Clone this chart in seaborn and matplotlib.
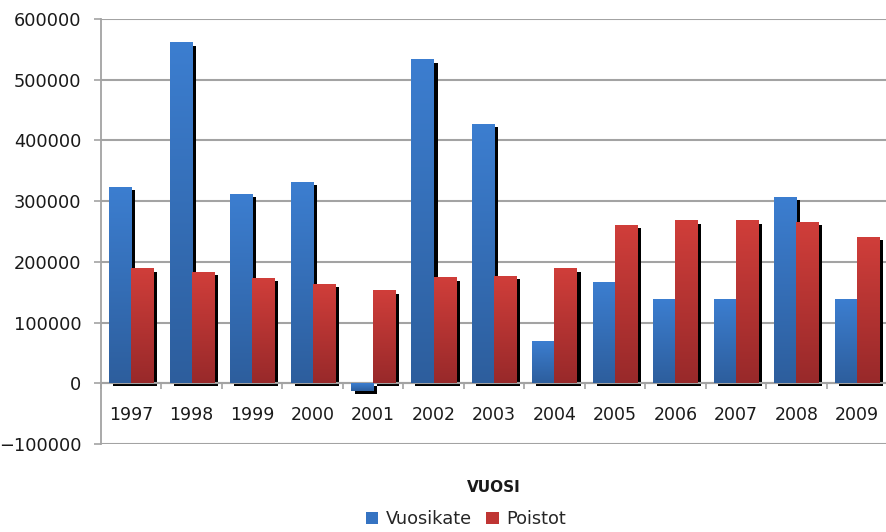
import numpy as np
import pandas as pd
import matplotlib
matplotlib.use("Agg")
import matplotlib.pyplot as plt
import seaborn as sns
from matplotlib.colors import LinearSegmentedColormap
from matplotlib.patches import Rectangle, Patch
from matplotlib.transforms import ScaledTranslation
from matplotlib.ticker import FixedLocator, StrMethodFormatter

years = ['1997', '1998', '1999', '2000', '2001', '2002', '2003',
         '2004', '2005', '2006', '2007', '2008', '2009']
vuosikate = [322000, 560000, 311000, 331000, -13000, 532000, 426000,
             68000, 166000, 138000, 138000, 306000, 138000]
poistot = [188000, 182000, 172000, 163000, 152000, 173000, 176000,
           188000, 260000, 267000, 267000, 265000, 240000]
series = ['Vuosikate', 'Poistot']
y_ticks = [-100000, 0, 100000, 200000, 300000, 400000, 500000, 600000]

df = pd.DataFrame({
    'VUOSI': years * 2,
    'value': vuosikate + poistot,
    'series': [series[0]] * len(years) + [series[1]] * len(years),
})

sns.set_theme(style="white")
plt.rcParams['font.family'] = ['DejaVu Sans']

fig = plt.figure(figsize=(8.86, 5.32), dpi=100)
ax = fig.add_axes([101 / 886, 88 / 532, 786 / 886, 425 / 532])

pal = {'Vuosikate': '#3A7BCC', 'Poistot': '#C93B38'}
sns.barplot(data=df, x='VUOSI', y='value', hue='series', palette=pal,
            width=0.73, gap=0, ax=ax, legend=False, saturation=1)

grads = {
    'Vuosikate': LinearSegmentedColormap.from_list('b', ['#2D5E9D', '#3C7ED0']),
    'Poistot': LinearSegmentedColormap.from_list('r', ['#98292A', '#D03E3A']),
}
grad = np.linspace(0, 1, 256).reshape(-1, 1)

shadow_off = ScaledTranslation(4 / 100, -2.5 / 100, fig.dpi_scale_trans)
n = len(years)
for i, p in enumerate(list(ax.patches)):
    s = series[0] if i < n else series[1]
    x0, y0, w, h = p.get_x(), p.get_y(), p.get_width(), p.get_height()
    if w == 0:
        continue
    sh = Rectangle((x0, y0), w, h, facecolor='black', edgecolor='none',
                   transform=ax.transData + shadow_off, zorder=1.5)
    ax.add_patch(sh)
    ybot, ytop = min(y0, y0 + h), max(y0, y0 + h)
    ax.imshow(grad, extent=[x0, x0 + w, ybot, ytop], origin='lower',
              aspect='auto', cmap=grads[s], zorder=2, interpolation='bilinear')
    p.set_facecolor('none')
    p.set_edgecolor('none')

ax.set_xlim(-0.5, n - 0.5)
ax.set_ylim(-100000, 600000)
ax.yaxis.set_major_locator(FixedLocator(y_ticks))
ax.yaxis.set_major_formatter(StrMethodFormatter('{x:.0f}'))

gridc = '#A3A3A3'
for v in y_ticks:
    ax.axhline(v, color=gridc, lw=1.5, zorder=0.5)

for s in ['top', 'right']:
    ax.spines[s].set_visible(False)
ax.spines['left'].set_color(gridc)
ax.spines['left'].set_linewidth(1.3)
ax.spines['bottom'].set_position(('data', 0))
ax.spines['bottom'].set_color(gridc)
ax.spines['bottom'].set_linewidth(1.5)
ax.spines['bottom'].set_zorder(1.6)

ax.tick_params(axis='y', which='major', left=True, length=5, width=1.2,
               color=gridc, pad=9, labelsize=12.8, labelcolor='#1a1a1a')
ax.set_xticks(np.arange(n + 1) - 0.5, minor=True)
ax.tick_params(axis='x', which='minor', bottom=True, length=4.5, width=1.2,
               color=gridc, direction='out')
ax.tick_params(axis='x', which='major', bottom=True, length=0, pad=16.5,
               labelsize=12.5, labelcolor='#1a1a1a')
ax.set_ylabel('')
ax.set_xlabel('VUOSI', fontsize=11, fontweight='bold', color='#1a1a1a')
ax.xaxis.set_label_coords(0.5, -0.085)

handles = [Patch(facecolor='#3573C2', edgecolor='none', label=series[0]),
           Patch(facecolor='#BF3533', edgecolor='none', label=series[1])]
fig.legend(handles=handles, loc='center', bbox_to_anchor=(466 / 886, 1 - 519 / 532),
           ncol=2, frameon=False, fontsize=12.8, handlelength=0.7,
           handleheight=0.7, handletextpad=0.45, columnspacing=0.8)

fig.savefig('out.png', dpi=100)
